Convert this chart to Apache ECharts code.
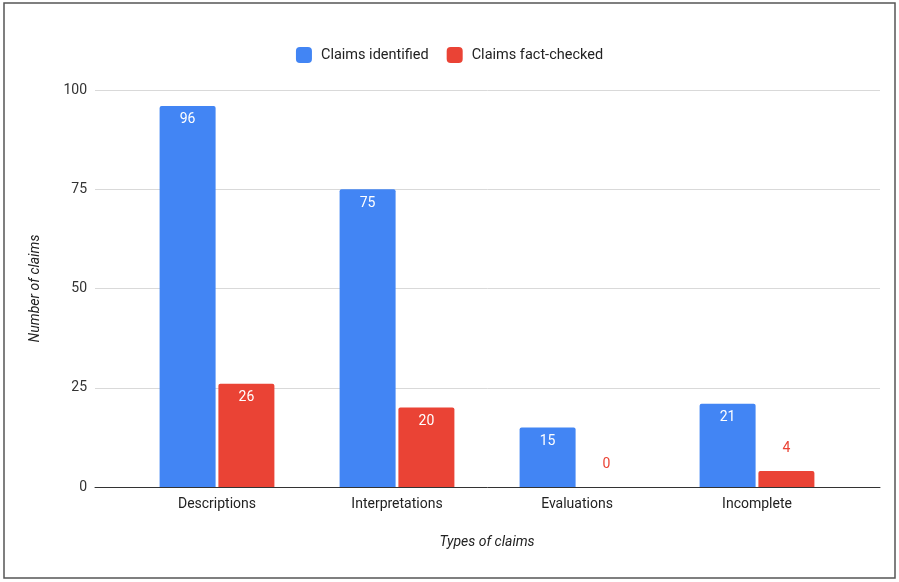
<!DOCTYPE html>
<html>
<head>
<meta charset="utf-8">
<script src="https://cdn.jsdelivr.net/npm/echarts@6/dist/echarts.min.js"></script>
<style>
html,body{margin:0;padding:0;background:#fff;}
#main{width:899px;height:582px;}
</style>
</head>
<body>
<div id="main"></div>
<script>
const categories = ['Descriptions', 'Interpretations', 'Evaluations', 'Incomplete'];
const claimsIdentified = [96, 75, 15, 21];
const claimsFactChecked = [26, 20, 0, 4];
const yTicks = { min: 0, max: 100, interval: 25 };
const seriesNames = ['Claims identified', 'Claims fact-checked'];

const BLUE = '#4285F4';
const RED = '#EA4335';
const FONT = 'Roboto, Arial, sans-serif';

function labelFor(v, color) {
  if (v >= 10) {
    return { value: v, label: { show: true, position: 'insideTop', distance: 7, color: '#fff' } };
  }
  return { value: v, label: { show: true, position: 'top', distance: 16, color: color } };
}

const chart = echarts.init(document.getElementById('main'), null, { renderer: 'canvas' });
chart.setOption({
  animation: false,
  backgroundColor: '#fff',
  textStyle: { fontFamily: FONT },
  graphic: [{
    type: 'rect',
    shape: { x: 4, y: 3, width: 891, height: 575 },
    style: { fill: 'none', stroke: '#555', lineWidth: 1.5 },
    silent: true
  }],
  legend: {
    top: 42,
    left: 'center',
    itemWidth: 16,
    itemHeight: 16,
    itemGap: 18,
    icon: 'roundRect',
    textStyle: { fontSize: 14.5, color: '#222', fontFamily: FONT, padding: [0, 0, 0, 4] },
    data: seriesNames
  },
  grid: [
    { left: 95, right: 19, top: 90, bottom: 95 },
    { left: 127, right: 52, top: 90, bottom: 95 }
  ],
  xAxis: [
    {
      gridIndex: 0, type: 'value', min: 0, max: 1,
      axisLabel: { show: false }, axisTick: { show: false }, splitLine: { show: false },
      axisLine: { show: true, onZero: false, lineStyle: { color: '#333', width: 1 } }
    },
    {
      gridIndex: 1, type: 'category', data: categories,
      axisLine: { show: false }, axisTick: { show: false },
      axisLabel: { fontSize: 14, color: '#222', margin: 10, fontFamily: FONT },
      name: 'Types of claims', nameLocation: 'middle', nameGap: 48,
      nameTextStyle: { fontSize: 14, fontStyle: 'italic', color: '#222', fontFamily: FONT }
    }
  ],
  yAxis: [
    {
      gridIndex: 0, type: 'value', min: yTicks.min, max: yTicks.max, interval: yTicks.interval,
      axisLine: { show: false }, axisTick: { show: false },
      axisLabel: { fontSize: 14, color: '#333', margin: 8, fontFamily: FONT },
      splitLine: { show: true, lineStyle: { color: '#d9d9d9', width: 1 } },
      name: 'Number of claims', nameLocation: 'middle', nameGap: 53, nameRotate: 90,
      nameTextStyle: { fontSize: 14, fontStyle: 'italic', color: '#222', fontFamily: FONT }
    },
    {
      gridIndex: 1, type: 'value', min: yTicks.min, max: yTicks.max, interval: yTicks.interval,
      show: false, splitLine: { show: false }
    }
  ],
  series: [
    {
      name: seriesNames[0], type: 'bar', xAxisIndex: 1, yAxisIndex: 1,
      data: claimsIdentified.map(v => labelFor(v, BLUE)),
      itemStyle: { color: BLUE, borderRadius: [2, 2, 0, 0] },
      barWidth: 56, barGap: '5%',
      label: { fontSize: 14, fontFamily: FONT }
    },
    {
      name: seriesNames[1], type: 'bar', xAxisIndex: 1, yAxisIndex: 1,
      data: claimsFactChecked.map(v => labelFor(v, RED)),
      itemStyle: { color: RED, borderRadius: [2, 2, 0, 0] },
      barWidth: 56, barGap: '5%',
      label: { fontSize: 14, fontFamily: FONT }
    }
  ]
});
</script>
</body>
</html>
